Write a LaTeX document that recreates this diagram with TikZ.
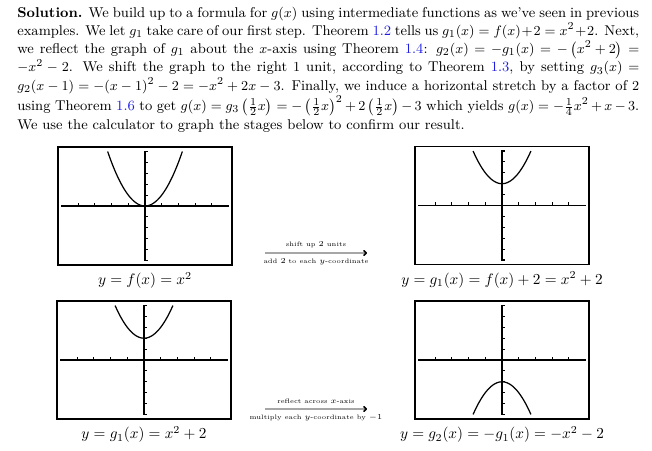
\documentclass[tikz,border=0pt]{standalone}
\usepackage{amsmath}
\usepackage{amssymb}
\usepackage{tikz}
\usetikzlibrary{arrows.meta}
\usetikzlibrary{positioning}
\definecolor{thmblue}{RGB}{30,30,225}

\begin{document}
\begin{tikzpicture}[x=0.656pt, y=-0.656pt,
	calcscreen/.style = {draw, line width = 1.3pt, minimum width = 114pt, minimum height = 77.4pt, inner sep = 0pt},
	stagecap/.style = {inner sep = 1pt},
	steplabel/.style = {font = \fontsize{4.2}{5}\selectfont, inner sep = 3pt},
	steparrow/.style = {-{To[color=black, length=2.5pt, width=4pt]}, line width = 1.1pt, draw = gray!70},
	calcaxis/.style = {line width = 1pt},
	calcplot/.style = {line width = 0.8pt, smooth, samples = 40}]
	\useasboundingbox (0,0) rectangle (652,451);
	
	\node [anchor = north west, inner sep = 0pt, text width = 408pt, align = justify, font = \fontsize{9.3}{12}\selectfont] (sol) at (17,6.5) {\textbf{Solution.} We build up to a formula for $g(x)$ using intermediate functions as we've seen in previous examples. We let $g_1$ take care of our first step. Theorem \textcolor{thmblue}{1.2} tells us $g_1(x) = f(x)+2 = x^2+2$. Next, we reflect the graph of $g_1$ about the $x$-axis using Theorem \textcolor{thmblue}{1.4}: $g_2(x) = -g_1(x) = -\left(x^2+2\right) = -x^2-2$. We shift the graph to the right $1$ unit, according to Theorem \textcolor{thmblue}{1.3}, by setting $g_3(x) = g_2(x-1) = -(x-1)^2-2 = -x^2+2x-3$. Finally, we induce a horizontal stretch by a factor of $2$ using Theorem \textcolor{thmblue}{1.6} to get $g(x) = g_3\left(\frac{1}{2}x\right) = -\left(\frac{1}{2}x\right)^2+2\left(\frac{1}{2}x\right)-3$ which yields $g(x) = -\frac{1}{4}x^2+x-3$. We use the calculator to graph the stages below to confirm our result.};
	
	% the four calculator screens
	\node [calcscreen] (scrf) at (145,206) {};
	\node [calcscreen] (scrgone) at (502,205.5) {};
	\node [calcscreen] (scrgonebis) at (144,360) {};
	\node [calcscreen] (scrgtwo) at (502,360) {};
	
	\node [stagecap, below = 3pt of scrf] (capf) {$y = f(x) = x^2$};
	\node [stagecap, below = 3pt of scrgone] (capgone) {$y = g_1(x) = f(x) + 2 = x^2 + 2$};
	\node [stagecap, below = 3pt of scrgonebis] (capgonebis) {$y = g_1(x) = x^2 + 2$};
	\node [stagecap, below = 3pt of scrgtwo] (capgtwo) {$y = g_2(x) = -g_1(x) = -x^2 - 2$};
	
	\foreach \scr/\a/\b/\dom in {scrf/1/0/2.236, scrgone/1/2/1.732, scrgonebis/1/2/1.732, scrgtwo/-1/2/1.732} {
		\begin{scope}[shift = {(\scr.center)}, x = 10.96pt, y = 7.15pt]
			\draw [calcaxis] (-5,0) -- (5,0);
			\draw [calcaxis] (0.15,5) -- (0,5) -- (0,-5) -- (0.15,-5);
			\foreach \t in {-4,...,-1,1,2,3,4} {
				\draw [line width = 0.7pt] (\t,0) -- (\t,0.3);
				\draw [line width = 0.7pt] (0,\t) -- (0.2,\t);
			}
			\draw [calcplot, domain = -\dom:\dom] plot (\x, {\a*((\x)^2+\b)});
		\end{scope}
	}
	
	% arrows between the stages
	\coordinate (upstart) at (265,253);
	\coordinate (upend) at (367,253);
	\draw [steparrow] (upstart) -- node [steplabel, above] {shift up $2$ units} node [steplabel, below] {add $2$ to each $y$-coordinate} (upend);
	
	\coordinate (refstart) at (265,409);
	\coordinate (refend) at (367,409);
	\draw [steparrow] (refstart) -- node [steplabel, above] {reflect across $x$-axis} node [steplabel, below] {multiply each $y$-coordinate by $-1$} (refend);
\end{tikzpicture}
\end{document}
